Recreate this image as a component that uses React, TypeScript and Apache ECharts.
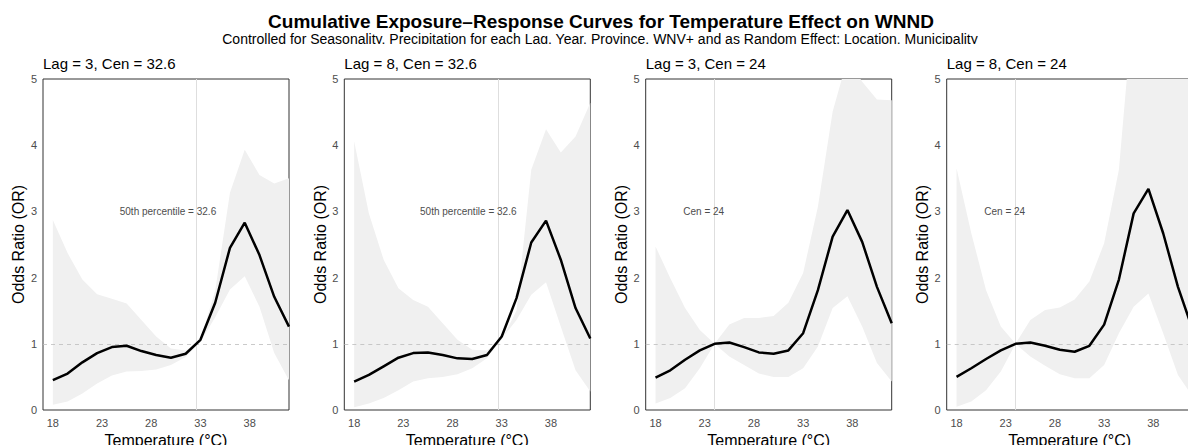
import React, { useEffect, useRef } from "react";
import * as echarts from "echarts";

const temps = [18, 19.5, 21, 22.5, 24, 25.5, 27, 28.5, 30, 31.5, 33, 34.5, 36, 37.5, 39, 40.5, 42];
const xTicks = [18, 23, 28, 33, 38];

const panelTitles = ["Lag = 3, Cen = 32.6", "Lag = 8, Cen = 32.6", "Lag = 3, Cen = 24", "Lag = 8, Cen = 24"];
const centers = [32.6, 32.6, 24, 24];
const annotTexts = ["50th percentile = 32.6", "50th percentile = 32.6", "Cen = 24", "Cen = 24"];
const annotX = [29.7, 29.6, 22.9, 22.9];
const annotY = 3;

const or1 = [0.45, 0.55, 0.72, 0.86, 0.95, 0.97, 0.89, 0.83, 0.79, 0.85, 1.06, 1.62, 2.45, 2.83, 2.34, 1.71, 1.26];
const hi1 = [2.87, 2.37, 1.97, 1.75, 1.68, 1.61, 1.36, 1.11, 0.93, 0.9, 1.06, 1.8, 3.28, 3.93, 3.55, 3.42, 3.5];
const lo1 = [0.08, 0.13, 0.25, 0.4, 0.52, 0.58, 0.59, 0.61, 0.68, 0.8, 1.03, 1.4, 1.82, 2.02, 1.56, 0.86, 0.45];

const or2 = [0.43, 0.53, 0.66, 0.79, 0.86, 0.87, 0.83, 0.78, 0.77, 0.83, 1.11, 1.69, 2.53, 2.86, 2.27, 1.54, 1.08];
const hi2 = [4.06, 2.97, 2.27, 1.84, 1.66, 1.56, 1.31, 1.06, 0.91, 0.9, 1.06, 1.5, 3.63, 4.24, 3.89, 4.13, 4.64];
const lo2 = [0.04, 0.1, 0.18, 0.3, 0.43, 0.48, 0.5, 0.54, 0.63, 0.78, 1.08, 1.36, 1.74, 1.93, 1.26, 0.6, 0.28];

const or3 = [0.49, 0.6, 0.76, 0.9, 1.0, 1.02, 0.95, 0.87, 0.85, 0.9, 1.16, 1.81, 2.62, 3.02, 2.54, 1.86, 1.31];
const hi3 = [2.47, 1.99, 1.54, 1.21, 1.0, 1.29, 1.39, 1.39, 1.42, 1.62, 2.07, 3.07, 4.51, 5.3, 4.96, 4.69, 4.68];
const lo3 = [0.1, 0.18, 0.33, 0.63, 1.0, 0.81, 0.68, 0.55, 0.5, 0.5, 0.63, 0.96, 1.54, 1.72, 1.26, 0.71, 0.43];

const or4 = [0.5, 0.63, 0.77, 0.9, 1.0, 1.02, 0.97, 0.91, 0.88, 0.97, 1.29, 1.97, 2.97, 3.34, 2.67, 1.86, 1.21];
const hi4 = [3.65, 2.67, 1.81, 1.26, 1.0, 1.36, 1.51, 1.55, 1.67, 1.94, 2.52, 3.63, 6.2, 6.5, 6.2, 5.8, 5.5];
const lo4 = [0.05, 0.13, 0.3, 0.58, 1.0, 0.81, 0.67, 0.54, 0.48, 0.48, 0.68, 1.16, 1.56, 1.76, 1.16, 0.53, 0.2];

const curves = [or1, or2, or3, or4];
const uppers = [hi1, hi2, hi3, hi4];
const lowers = [lo1, lo2, lo3, lo4];

const TITLE = "Cumulative Exposure\u2013Response Curves for Temperature Effect on WNND";
const SUBTITLE =
  "Controlled for Seasonality, Precipitation for each Lag, Year, Province, WNV+ and as Random Effect: Location, Municipality";

const FONT = "'Liberation Sans', Arial, sans-serif";
const gridLefts = [43, 344.3, 645.7, 946.7];
const GRID_TOP = 79;
const GRID_W = 246;
const GRID_H = 331;

export default function App() {
  const ref = useRef<HTMLDivElement>(null);

  useEffect(() => {
    if (!ref.current) return;
    const chart = echarts.init(ref.current, null, { renderer: "svg" });

    const grid: any[] = [];
    const xAxis: any[] = [];
    const yAxis: any[] = [];
    const series: any[] = [];
    const graphic: any[] = [];

    for (let p = 0; p < 4; p++) {
      grid.push({
        left: gridLefts[p],
        top: GRID_TOP,
        width: GRID_W,
        height: GRID_H,
        show: true,
        borderColor: "#333",
        borderWidth: 1,
        backgroundColor: "transparent",
        containLabel: false,
        outerBoundsMode: "none",
      });
      xAxis.push({
        type: "value",
        gridIndex: p,
        min: 17,
        max: 42,
        name: "Temperature (\u00B0C)",
        nameLocation: "middle",
        nameGap: 18,
        nameTextStyle: { fontFamily: FONT, fontSize: 16, color: "#000" },
        axisLine: { show: false },
        axisTick: { show: false },
        splitLine: { show: false },
        axisLabel: {
          customValues: xTicks,
          fontFamily: FONT,
          fontSize: 11,
          color: "#4d4d4d",
          margin: 7,
        },
      });
      yAxis.push({
        type: "value",
        gridIndex: p,
        min: 0,
        max: 5,
        interval: 1,
        name: "Odds Ratio (OR)",
        nameLocation: "middle",
        nameGap: 14,
        nameTextStyle: { fontFamily: FONT, fontSize: 16, color: "#000" },
        axisLine: { show: false },
        axisTick: { show: false },
        splitLine: { show: false },
        axisLabel: { fontFamily: FONT, fontSize: 11, color: "#4d4d4d", margin: 6 },
      });

      const lo = lowers[p];
      const hi = uppers[p];
      series.push({
        type: "custom",
        xAxisIndex: p,
        yAxisIndex: p,
        clip: true,
        silent: true,
        z: 1,
        data: temps.map((t, i) => [t, lo[i], hi[i]]),
        encode: { x: 0, y: [1, 2] },
        renderItem: (params: any, api: any) => {
          if (params.dataIndex !== 0) return null;
          const top = temps.map((t, i) => api.coord([t, hi[i]]));
          const bottom = temps.map((t, i) => api.coord([t, lo[i]])).reverse();
          return {
            type: "polygon",
            shape: { points: top.concat(bottom) },
            style: { fill: "#f0f0f0", stroke: "none" },
          };
        },
      });
      series.push({
        type: "line",
        xAxisIndex: p,
        yAxisIndex: p,
        data: temps.map((t, i) => [t, curves[p][i]]),
        symbol: "none",
        lineStyle: { color: "#000", width: 2.5 },
        z: 5,
        markLine: {
          silent: true,
          symbol: "none",
          label: { show: false },
          data: [
            { xAxis: centers[p], lineStyle: { color: "#dedede", width: 1, type: "solid" } },
            { yAxis: 1, lineStyle: { color: "#bdbdbd", width: 0.8, type: [4, 4] } },
          ],
        },
        markPoint: {
          silent: true,
          symbol: "circle",
          symbolSize: 0,
          data: [
            {
              coord: [annotX[p], annotY],
              label: {
                show: true,
                position: "inside",
                formatter: annotTexts[p],
                fontFamily: FONT,
                fontSize: 10,
                color: "#4d4d4d",
              },
            },
          ],
        },
      });

      graphic.push({
        type: "text",
        left: gridLefts[p],
        top: 56,
        style: { text: panelTitles[p], font: `15px ${FONT}`, fill: "#000" },
      });
    }

    graphic.push({
      type: "text",
      x: 601,
      y: 21,
      style: {
        text: TITLE,
        font: `bold 19px ${FONT}`,
        fill: "#000",
        textAlign: "center",
        textVerticalAlign: "middle",
      },
      z: 10,
    });
    graphic.push({
      type: "text",
      x: 600,
      y: 39,
      style: {
        text: SUBTITLE,
        font: `14px ${FONT}`,
        fill: "#000",
        textAlign: "center",
        textVerticalAlign: "middle",
      },
      z: 10,
    });
    graphic.push({
      type: "rect",
      shape: { x: 0, y: 44, width: 1188, height: 10 },
      style: { fill: "#fff" },
      z: 11,
    });

    chart.setOption({
      animation: false,
      backgroundColor: "#fff",
      grid,
      xAxis,
      yAxis,
      series,
      graphic,
    });

    return () => chart.dispose();
  }, []);

  return (
    <div
      ref={ref}
      style={{ position: "fixed", left: 0, top: 0, width: 1188, height: 445 }}
    />
  );
}
